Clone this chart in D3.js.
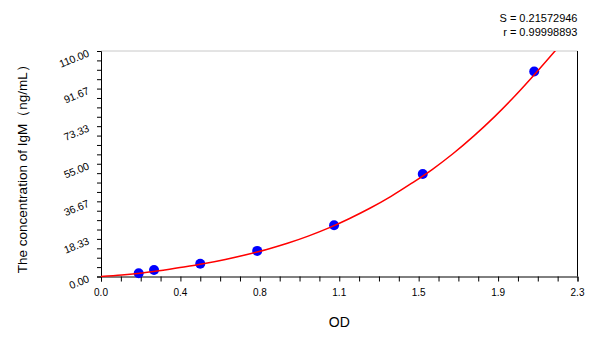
<!DOCTYPE html>
<html>
<head>
<meta charset="utf-8">
<script src="https://cdn.jsdelivr.net/npm/d3@7"></script>
<style>
  html, body { margin: 0; padding: 0; background: #fff; }
  svg { display: block; }
  text { font-family: "Liberation Sans", Arial, sans-serif; fill: #000; }
</style>
</head>
<body>
<svg id="chart" width="600" height="337"></svg>
<script>
// ---- data ----
const stdOD   = [0.182, 0.256, 0.479, 0.754, 1.125, 1.553, 2.091];
const stdConc = [1.56, 3.13, 6.25, 12.5, 25, 50, 100];

// fitted curve
const fitOD   = [0, 0.1, 0.2, 0.3, 0.4, 0.5, 0.6, 0.7, 0.8, 0.9, 1.0, 1.1, 1.2, 1.3, 1.4, 1.5, 1.6, 1.7, 1.8, 1.9, 2.0, 2.1, 2.2];
const fitConc = [0, 0.7, 1.7, 3.1, 4.6, 6.3, 8.3, 10.6, 13.2, 16.2, 19.7, 23.7, 28.3, 33.4, 39.1, 45.5, 52.3, 60.0, 68.6, 78.0, 88.3, 99.4, 111];

const xTickValues = [0, 2.3/6, 2*2.3/6, 3*2.3/6, 4*2.3/6, 5*2.3/6, 2.3];
const xTickLabels = ["0.0", "0.4", "0.8", "1.1", "1.5", "1.9", "2.3"];
const yTickValues = [0, 110/6, 2*110/6, 3*110/6, 4*110/6, 5*110/6, 110];
const yTickLabels = ["0.00", "18.33", "36.67", "55.00", "73.33", "91.67", "110.00"];
const statsLines  = ["S = 0.21572946", "r = 0.99998893"];
const xTitle = "OD";
const yTitle = "The concentration of IgM（ng/mL）";

// ---- layout ----
const svg = d3.select("#chart");
const L = 101, R = 577.5, T = 51, B = 276.5;
const x = d3.scaleLinear().domain([0, 2.3]).range([L, R]);
const y = d3.scaleLinear().domain([0, 110]).range([B, T]);

// frame: top gray, right black
svg.append("line").attr("x1", L).attr("x2", R).attr("y1", T).attr("y2", T)
  .attr("stroke", "#c8c8c8").attr("stroke-width", 1);
svg.append("line").attr("x1", R).attr("x2", R).attr("y1", T).attr("y2", B)
  .attr("stroke", "#000").attr("stroke-width", 1);

// minor ticks
const xMinor = d3.range(0, 25).map(i => i * 2.3 / 24);
const yMinor = d3.range(0, 25).map(i => i * 110 / 24);

const xAxis = d3.axisBottom(x).tickValues(xMinor).tickSize(5).tickFormat("");
const gx = svg.append("g").attr("transform", `translate(0,${B})`).call(xAxis);
gx.select(".domain").attr("stroke", "#000");
gx.selectAll(".tick line").attr("stroke", "#000");

const yAxis = d3.axisLeft(y).tickValues(yMinor).tickSize(4).tickFormat("");
const gy = svg.append("g").attr("transform", `translate(${L},0)`).call(yAxis);
gy.select(".domain").attr("stroke", "#000");
gy.selectAll(".tick line").attr("stroke", "#000");

// x tick labels
svg.append("g").selectAll("text").data(xTickValues).join("text")
  .attr("x", d => x(d)).attr("y", B + 19)
  .attr("text-anchor", "middle").attr("font-size", 10)
  .text((d, i) => xTickLabels[i]);

// y tick labels (rotated)
svg.append("g").selectAll("text").data(yTickValues).join("text")
  .attr("transform", d => `translate(${L - 11},${y(d) + 5}) rotate(-22)`)
  .attr("text-anchor", "end").attr("font-size", 10.5)
  .text((d, i) => yTickLabels[i]);

// axis titles
svg.append("text").attr("x", (L + R) / 2).attr("y", 327)
  .attr("text-anchor", "middle").attr("font-size", 14).text(xTitle);
svg.append("text")
  .attr("transform", `translate(27,${(T + B) / 2 + 2}) rotate(-90)`)
  .attr("text-anchor", "middle").attr("font-size", 13.5).text(yTitle);

// stats
svg.append("g").selectAll("text").data(statsLines).join("text")
  .attr("x", R).attr("y", (d, i) => 22 + i * 14)
  .attr("text-anchor", "end").attr("font-size", 11).text(d => d);

// points
svg.append("g").selectAll("circle").data(stdOD).join("circle")
  .attr("cx", d => x(d)).attr("cy", (d, i) => y(stdConc[i]))
  .attr("r", 5).attr("fill", "#0000ff");

// fit curve (clipped to plot)
svg.append("clipPath").attr("id", "clip").append("rect")
  .attr("x", L).attr("y", T).attr("width", R - L + 1).attr("height", B - T + 1);
const line = d3.line().x(d => x(d[0])).y(d => y(d[1])).curve(d3.curveMonotoneX);
svg.append("path").datum(fitOD.map((d, i) => [d, fitConc[i]]))
  .attr("clip-path", "url(#clip)")
  .attr("d", line).attr("fill", "none").attr("stroke", "#ff0000").attr("stroke-width", 1.5);
</script>
</body>
</html>
